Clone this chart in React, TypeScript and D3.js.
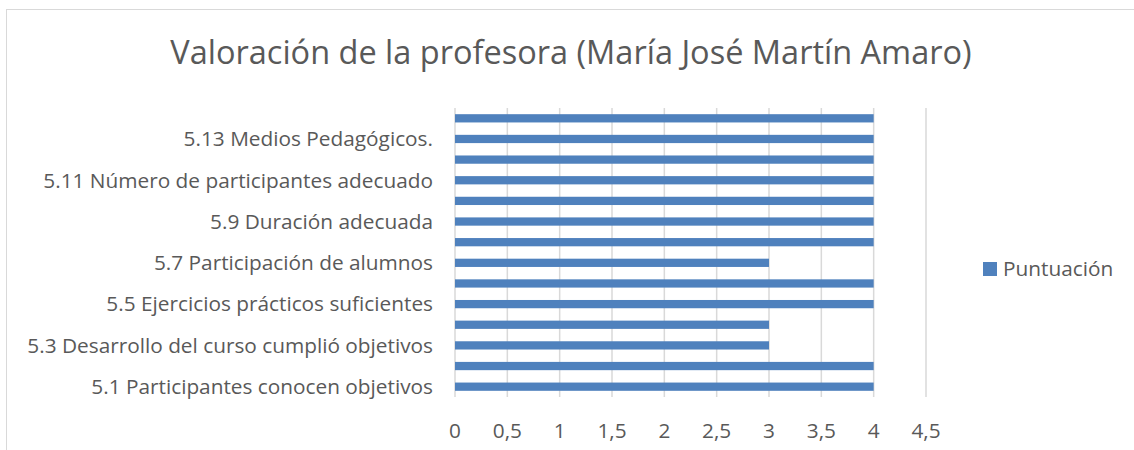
import React, { useEffect, useRef } from "react";
import * as d3 from "d3";

// categories bottom -> top, only odd ones carry a visible label
const categories = [
  "5.1 Participantes conocen objetivos",
  "5.2 Contenidos adecuados",
  "5.3 Desarrollo del curso cumplió objetivos",
  "5.4 Temario completo",
  "5.5 Ejercicios prácticos suficientes",
  "5.6 Explicaciones claras",
  "5.7 Participación de alumnos",
  "5.8 Ritmo adecuado",
  "5.9 Duración adecuada",
  "5.10 Horario adecuado",
  "5.11 Número de participantes adecuado",
  "5.12 Instalaciones adecuadas",
  "5.13 Medios Pedagógicos.",
  "5.14 Documentación entregada",
];
const puntuacion = [4, 4, 3, 3, 4, 4, 3, 4, 4, 4, 4, 4, 4, 4];
const xTicks = [0, 0.5, 1, 1.5, 2, 2.5, 3, 3.5, 4, 4.5];
const seriesName = "Puntuación";
const title = "Valoración de la profesora (María José Martín Amaro)";

const W = 1134;
const H = 450;
const FONT = "'Open Sans', sans-serif";
const TEXT = "#595959";
const BAR = "#4f81bd";

export default function App() {
  const ref = useRef<SVGSVGElement>(null);

  useEffect(() => {
    const svg = d3.select(ref.current);
    svg.selectAll("*").remove();

    // chart frame
    svg.append("rect")
      .attr("x", 6.5).attr("y", 9.5)
      .attr("width", W + 10).attr("height", H + 10)
      .attr("fill", "#fff").attr("stroke", "#d9d9d9");

    svg.append("text")
      .attr("x", 571).attr("y", 64)
      .attr("text-anchor", "middle")
      .attr("font-family", FONT).attr("font-size", 32.5)
      .attr("fill", TEXT)
      .text(title);

    const x = d3.scaleLinear().domain([0, 4.5]).range([455, 926]);
    const y = d3.scaleBand<string>()
      .domain(categories)
      .range([397, 108])
      .paddingInner(0.6)
      .paddingOuter(0.3);

    // grid
    svg.append("g").selectAll("line")
      .data(xTicks)
      .enter().append("line")
      .attr("x1", d => x(d)).attr("x2", d => x(d))
      .attr("y1", 108).attr("y2", 397)
      .attr("stroke", "#d9d9d9").attr("stroke-width", 1.5);

    // bars
    svg.append("g").selectAll("rect")
      .data(categories)
      .enter().append("rect")
      .attr("x", x(0))
      .attr("y", d => y(d)!)
      .attr("width", (d, i) => x(puntuacion[i]) - x(0))
      .attr("height", y.bandwidth())
      .attr("fill", BAR);

    // category labels (every second one)
    svg.append("g").selectAll("text")
      .data(categories.filter((c, i) => i % 2 === 0))
      .enter().append("text")
      .attr("x", 433)
      .attr("y", d => y(d)! + y.bandwidth() / 2)
      .attr("dy", "0.35em")
      .attr("text-anchor", "end")
      .attr("font-family", FONT).attr("font-size", 20.8)
      .attr("fill", TEXT)
      .text(d => d);

    // value axis labels
    svg.append("g").selectAll("text")
      .data(xTicks)
      .enter().append("text")
      .attr("x", d => x(d))
      .attr("y", 431)
      .attr("dy", "0.35em")
      .attr("text-anchor", "middle")
      .attr("font-family", FONT).attr("font-size", 20.8)
      .attr("fill", TEXT)
      .text(d => d3.format(".1~f")(d).replace(".", ","));

    // legend
    const lg = svg.append("g").attr("transform", "translate(983,262)");
    lg.append("rect").attr("width", 14).attr("height", 14).attr("fill", BAR);
    lg.append("text")
      .attr("x", 20).attr("y", 7).attr("dy", "0.35em")
      .attr("font-family", FONT).attr("font-size", 20.8)
      .attr("fill", TEXT)
      .text(seriesName);
  }, []);

  return (
    <div style={{ position: "absolute", left: 0, top: 0 }}>
      <svg ref={ref} width={W} height={H} style={{ display: "block" }} />
    </div>
  );
}
